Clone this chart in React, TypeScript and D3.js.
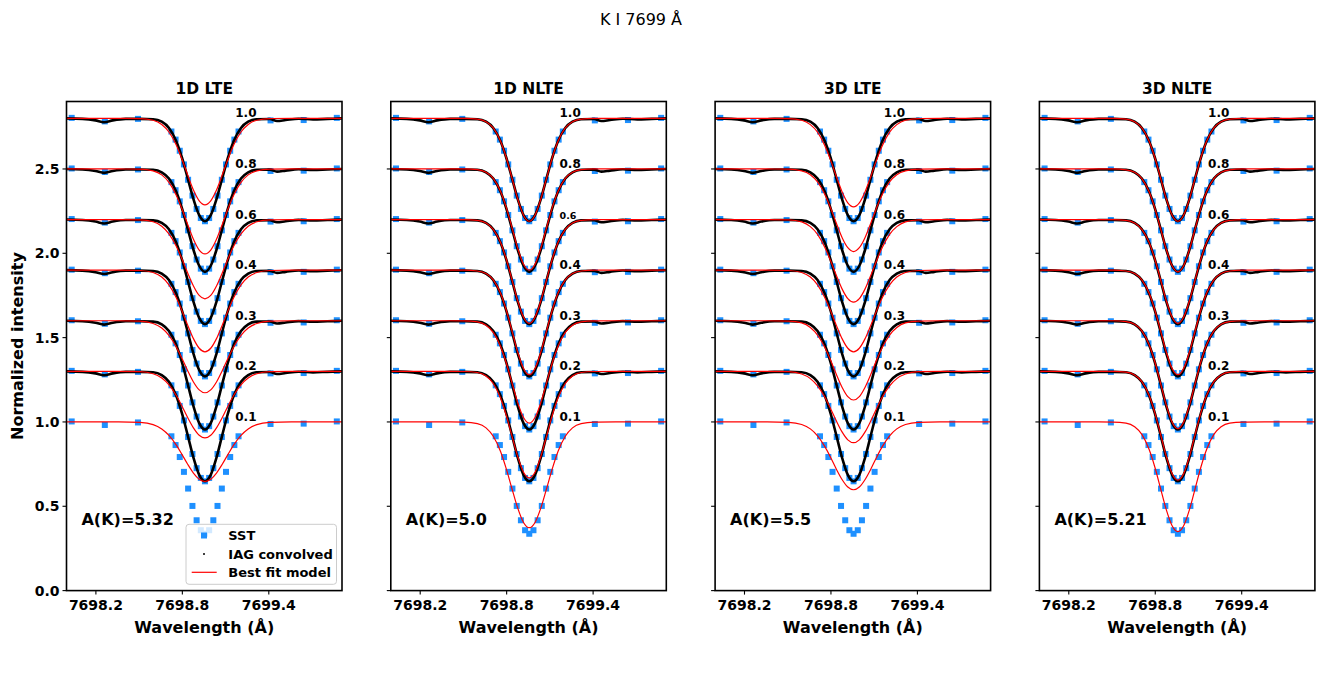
import React from "react";
import * as d3 from "d3";

// ---------- data ----------
const panelTitles = ["1D LTE", "1D NLTE", "3D LTE", "3D NLTE"];
const abundanceLabels = ["A(K)=5.32", "A(K)=5.0", "A(K)=5.5", "A(K)=5.21"];
const muLabels = ["1.0", "0.8", "0.6", "0.4", "0.3", "0.2", "0.1"];
const muOffsets = [1.8, 1.5, 1.2, 0.9, 0.6, 0.3, 0.0];
const xTicks = [7698.2, 7698.8, 7699.4];
const yTicks = [0, 0.5, 1.0, 1.5, 2.0, 2.5];

// SST observed wavelengths (Å)
const sstWavelengths = [
  7698.032, 7698.262, 7698.492, 7698.724, 7698.753, 7698.782, 7698.811, 7698.84, 7698.87, 7698.899,
  7698.928, 7698.957, 7698.986, 7699.015, 7699.044, 7699.074, 7699.103, 7699.132, 7699.161, 7699.19,
  7699.412, 7699.642, 7699.872,
];
// SST normalized intensities, one row per mu (1.0 ... 0.1)
const sstValues = [
  [1.003, 0.982, 0.997, 0.922, 0.874, 0.808, 0.727, 0.636, 0.542, 0.463, 0.409, 0.39, 0.409, 0.463, 0.542, 0.636, 0.727, 0.808, 0.874, 0.922, 0.988, 0.99, 1.003],
  [1.003, 0.982, 0.997, 0.922, 0.874, 0.808, 0.727, 0.636, 0.542, 0.463, 0.409, 0.39, 0.409, 0.463, 0.542, 0.636, 0.727, 0.808, 0.874, 0.922, 0.988, 0.99, 1.003],
  [1.003, 0.982, 0.997, 0.921, 0.872, 0.805, 0.723, 0.63, 0.534, 0.454, 0.399, 0.38, 0.399, 0.454, 0.534, 0.63, 0.723, 0.805, 0.872, 0.921, 0.988, 0.99, 1.003],
  [1.003, 0.982, 0.997, 0.919, 0.87, 0.802, 0.718, 0.625, 0.527, 0.446, 0.39, 0.37, 0.39, 0.446, 0.527, 0.625, 0.718, 0.802, 0.87, 0.919, 0.988, 0.99, 1.003],
  [1.003, 0.982, 0.997, 0.917, 0.866, 0.797, 0.712, 0.616, 0.516, 0.432, 0.375, 0.355, 0.375, 0.432, 0.516, 0.616, 0.712, 0.797, 0.866, 0.917, 0.988, 0.99, 1.003],
  [1.003, 0.982, 0.997, 0.917, 0.865, 0.795, 0.709, 0.611, 0.51, 0.426, 0.368, 0.348, 0.368, 0.426, 0.51, 0.611, 0.709, 0.795, 0.865, 0.917, 0.988, 0.99, 1.003],
  [1.003, 0.982, 0.997, 0.915, 0.863, 0.792, 0.704, 0.605, 0.502, 0.417, 0.358, 0.337, 0.358, 0.417, 0.502, 0.605, 0.704, 0.792, 0.863, 0.915, 0.988, 0.99, 1.003],
];

// IAG convolved spectrum wavelengths (Å)
const iagWavelengths = [
  7697.987, 7698.107, 7698.197, 7698.257, 7698.317, 7698.407, 7698.507, 7698.597, 7698.657, 7698.707,
  7698.757, 7698.797, 7698.837, 7698.877, 7698.917, 7698.957, 7698.997, 7699.037, 7699.077, 7699.117,
  7699.157, 7699.207, 7699.257, 7699.317, 7699.407, 7699.457, 7699.517, 7699.607, 7699.707, 7699.807,
  7699.917,
];
// IAG normalized intensities, mu 1.0 ... 0.2
const iagValues = [
  [1.0, 0.997, 0.988, 0.977, 0.988, 0.997, 0.997, 0.995, 0.98, 0.943, 0.866, 0.768, 0.646, 0.521, 0.426, 0.39, 0.426, 0.521, 0.646, 0.768, 0.866, 0.943, 0.98, 0.995, 0.996, 0.984, 0.99, 0.998, 0.994, 0.997, 1.0],
  [1.0, 0.997, 0.988, 0.977, 0.988, 0.997, 0.997, 0.995, 0.98, 0.943, 0.866, 0.768, 0.646, 0.521, 0.426, 0.39, 0.426, 0.521, 0.646, 0.768, 0.866, 0.943, 0.98, 0.995, 0.996, 0.984, 0.99, 0.998, 0.994, 0.997, 1.0],
  [1.0, 0.997, 0.988, 0.977, 0.988, 0.997, 0.997, 0.995, 0.98, 0.942, 0.864, 0.764, 0.64, 0.513, 0.417, 0.38, 0.417, 0.513, 0.64, 0.764, 0.864, 0.942, 0.98, 0.995, 0.996, 0.984, 0.99, 0.998, 0.994, 0.997, 1.0],
  [1.0, 0.997, 0.988, 0.977, 0.988, 0.997, 0.997, 0.995, 0.979, 0.941, 0.861, 0.761, 0.635, 0.505, 0.407, 0.37, 0.407, 0.505, 0.635, 0.761, 0.861, 0.941, 0.979, 0.995, 0.996, 0.984, 0.99, 0.998, 0.994, 0.997, 1.0],
  [1.0, 0.997, 0.988, 0.977, 0.988, 0.997, 0.997, 0.995, 0.979, 0.939, 0.858, 0.755, 0.626, 0.494, 0.393, 0.355, 0.393, 0.494, 0.626, 0.755, 0.858, 0.939, 0.979, 0.995, 0.996, 0.984, 0.99, 0.998, 0.994, 0.997, 1.0],
  [1.0, 0.997, 0.988, 0.977, 0.988, 0.997, 0.997, 0.995, 0.978, 0.939, 0.857, 0.752, 0.622, 0.488, 0.386, 0.348, 0.386, 0.488, 0.622, 0.752, 0.857, 0.939, 0.978, 0.995, 0.996, 0.984, 0.99, 0.998, 0.994, 0.997, 1.0],
];

// Best-fit model wavelengths (Å)
const modelWavelengths = [
  7697.987, 7698.357, 7698.507, 7698.597, 7698.657, 7698.707, 7698.757, 7698.797, 7698.837, 7698.877,
  7698.917, 7698.957, 7698.997, 7699.037, 7699.077, 7699.117, 7699.157, 7699.207, 7699.257, 7699.317,
  7699.407, 7699.557, 7699.927,
];
const model1DLTE = [
  [1, 1, 0.999, 0.989, 0.964, 0.919, 0.843, 0.759, 0.665, 0.575, 0.511, 0.487, 0.511, 0.575, 0.665, 0.759, 0.843, 0.919, 0.964, 0.989, 0.999, 1, 1],
  [1, 1, 0.999, 0.989, 0.965, 0.921, 0.846, 0.764, 0.671, 0.583, 0.519, 0.496, 0.519, 0.583, 0.671, 0.764, 0.846, 0.921, 0.965, 0.989, 0.999, 1, 1],
  [1, 1, 0.998, 0.987, 0.96, 0.915, 0.843, 0.767, 0.683, 0.606, 0.55, 0.53, 0.55, 0.606, 0.683, 0.767, 0.843, 0.915, 0.96, 0.987, 0.998, 1, 1],
  [1, 1, 0.998, 0.986, 0.959, 0.913, 0.838, 0.76, 0.674, 0.594, 0.537, 0.516, 0.537, 0.594, 0.674, 0.76, 0.838, 0.913, 0.959, 0.986, 0.998, 1, 1],
  [1, 1, 0.998, 0.984, 0.957, 0.913, 0.846, 0.778, 0.704, 0.637, 0.59, 0.573, 0.59, 0.637, 0.704, 0.778, 0.846, 0.913, 0.957, 0.984, 0.998, 1, 1],
  [1, 1, 0.998, 0.986, 0.96, 0.92, 0.858, 0.795, 0.726, 0.665, 0.621, 0.605, 0.621, 0.665, 0.726, 0.795, 0.858, 0.92, 0.96, 0.986, 0.998, 1, 1],
  [1, 1, 0.997, 0.984, 0.958, 0.92, 0.864, 0.808, 0.749, 0.697, 0.66, 0.647, 0.66, 0.697, 0.749, 0.808, 0.864, 0.92, 0.958, 0.984, 0.997, 1, 1],
];
const model1DNLTE = [
  [1, 1, 1.0, 0.995, 0.98, 0.943, 0.866, 0.768, 0.646, 0.521, 0.426, 0.39, 0.426, 0.521, 0.646, 0.768, 0.866, 0.943, 0.98, 0.995, 1.0, 1, 1],
  [1, 1, 1.0, 0.996, 0.98, 0.944, 0.868, 0.772, 0.652, 0.529, 0.435, 0.4, 0.435, 0.529, 0.652, 0.772, 0.868, 0.944, 0.98, 0.996, 1.0, 1, 1],
  [1, 1, 1.0, 0.995, 0.98, 0.942, 0.865, 0.766, 0.643, 0.517, 0.421, 0.385, 0.421, 0.517, 0.643, 0.766, 0.865, 0.942, 0.98, 0.995, 1.0, 1, 1],
  [1, 1, 1.0, 0.995, 0.98, 0.942, 0.864, 0.764, 0.64, 0.513, 0.417, 0.38, 0.417, 0.513, 0.64, 0.764, 0.864, 0.942, 0.98, 0.995, 1.0, 1, 1],
  [1, 1, 0.999, 0.993, 0.973, 0.931, 0.849, 0.751, 0.632, 0.514, 0.426, 0.393, 0.426, 0.514, 0.632, 0.751, 0.849, 0.931, 0.973, 0.993, 0.999, 1, 1],
  [1, 1, 0.999, 0.993, 0.972, 0.928, 0.843, 0.74, 0.616, 0.494, 0.402, 0.368, 0.402, 0.494, 0.616, 0.74, 0.843, 0.928, 0.972, 0.993, 0.999, 1, 1],
  [1, 1, 0.999, 0.99, 0.965, 0.915, 0.826, 0.723, 0.604, 0.489, 0.404, 0.373, 0.404, 0.489, 0.604, 0.723, 0.826, 0.915, 0.965, 0.99, 0.999, 1, 1],
];
const model3DLTE = [
  [1, 1, 0.999, 0.989, 0.963, 0.918, 0.839, 0.754, 0.657, 0.565, 0.499, 0.475, 0.499, 0.565, 0.657, 0.754, 0.839, 0.918, 0.963, 0.989, 0.999, 1, 1],
  [1, 1, 0.999, 0.989, 0.966, 0.923, 0.85, 0.77, 0.68, 0.594, 0.533, 0.51, 0.533, 0.594, 0.68, 0.77, 0.85, 0.923, 0.966, 0.989, 0.999, 1, 1],
  [1, 1, 0.998, 0.986, 0.958, 0.912, 0.836, 0.757, 0.67, 0.589, 0.531, 0.51, 0.531, 0.589, 0.67, 0.757, 0.836, 0.912, 0.958, 0.986, 0.998, 1, 1],
  [1, 1, 0.998, 0.986, 0.959, 0.913, 0.838, 0.76, 0.674, 0.594, 0.537, 0.516, 0.537, 0.594, 0.674, 0.76, 0.838, 0.913, 0.959, 0.986, 0.998, 1, 1],
  [1, 1, 0.998, 0.987, 0.96, 0.915, 0.843, 0.767, 0.683, 0.606, 0.55, 0.53, 0.55, 0.606, 0.683, 0.767, 0.843, 0.915, 0.96, 0.987, 0.998, 1, 1],
  [1, 1, 0.998, 0.984, 0.957, 0.914, 0.848, 0.78, 0.707, 0.641, 0.594, 0.577, 0.594, 0.641, 0.707, 0.78, 0.848, 0.914, 0.957, 0.984, 0.998, 1, 1],
  [1, 1, 0.998, 0.985, 0.959, 0.918, 0.855, 0.791, 0.721, 0.659, 0.614, 0.598, 0.614, 0.659, 0.721, 0.791, 0.855, 0.918, 0.959, 0.985, 0.998, 1, 1],
];
const model3DNLTE = [
  [1, 1, 1.0, 0.995, 0.98, 0.943, 0.866, 0.768, 0.646, 0.521, 0.426, 0.39, 0.426, 0.521, 0.646, 0.768, 0.866, 0.943, 0.98, 0.995, 1.0, 1, 1],
  [1, 1, 1.0, 0.995, 0.98, 0.943, 0.866, 0.768, 0.646, 0.521, 0.426, 0.39, 0.426, 0.521, 0.646, 0.768, 0.866, 0.943, 0.98, 0.995, 1.0, 1, 1],
  [1, 1, 1.0, 0.995, 0.98, 0.942, 0.865, 0.766, 0.643, 0.517, 0.421, 0.385, 0.421, 0.517, 0.643, 0.766, 0.865, 0.942, 0.98, 0.995, 1.0, 1, 1],
  [1, 1, 1.0, 0.995, 0.98, 0.942, 0.864, 0.764, 0.64, 0.513, 0.417, 0.38, 0.417, 0.513, 0.64, 0.764, 0.864, 0.942, 0.98, 0.995, 1.0, 1, 1],
  [1, 1, 1.0, 0.995, 0.979, 0.94, 0.859, 0.757, 0.629, 0.498, 0.398, 0.36, 0.398, 0.498, 0.629, 0.757, 0.859, 0.94, 0.979, 0.995, 1.0, 1, 1],
  [1, 1, 1.0, 0.995, 0.979, 0.939, 0.858, 0.755, 0.626, 0.494, 0.393, 0.355, 0.393, 0.494, 0.626, 0.755, 0.858, 0.939, 0.979, 0.995, 1.0, 1, 1],
  [1, 1, 0.999, 0.993, 0.971, 0.926, 0.838, 0.733, 0.605, 0.479, 0.385, 0.35, 0.385, 0.479, 0.605, 0.733, 0.838, 0.926, 0.971, 0.993, 0.999, 1, 1],
];
const modelsByPanel = [model1DLTE, model1DNLTE, model3DLTE, model3DNLTE];

// ---------- layout ----------
const W = 1333;
const H = 686;
const axLeft0 = 66.5;
const axStep = 324.3;
const axW = 275.5;
const axTop = 101.5;
const axBottom = 590.6;
const axH = axBottom - axTop;
const FONT = "DejaVu Sans, sans-serif";
const SST_COLOR = "#1e90ff";

export default function App() {
  const x = d3.scaleLinear().domain([7697.996, 7699.908]).range([0, axW]);
  const y = d3.scaleLinear().domain([0, 2.9]).range([axH, 0]);
  const mkLine = (xs: number[], off: number) =>
    d3
      .line<number>()
      .x((_, i) => x(xs[i]))
      .y((v) => y(v + off))
      .curve(d3.curveMonotoneX);

  return (
    <svg
      width={W}
      height={H}
      style={{ position: "absolute", left: 0, top: 0, background: "#fff" }}
      fontFamily={FONT}
    >
      <rect width={W} height={H} fill="#fff" />
      <text x={641} y={25} textAnchor="middle" fontSize={16}>
        K I 7699 Å
      </text>
      <text
        transform={`translate(23,${(axTop + axBottom) / 2}) rotate(-90)`}
        textAnchor="middle"
        fontSize={16}
        fontWeight="bold"
      >
        Normalized intensity
      </text>
      <defs>
        <clipPath id="axclip">
          <rect x={0} y={0} width={axW} height={axH} />
        </clipPath>
      </defs>
      {panelTitles.map((title, p) => {
        const left = axLeft0 + p * axStep;
        const models = modelsByPanel[p];
        return (
          <g key={title} transform={`translate(${left},${axTop})`}>
            <g clipPath="url(#axclip)">
              {sstValues.map((row, m) =>
                row.map((v, i) => (
                  <rect
                    key={`s${m}-${i}`}
                    x={x(sstWavelengths[i]) - 3}
                    y={y(v + muOffsets[m]) - 3}
                    width={6}
                    height={6}
                    fill={SST_COLOR}
                  />
                ))
              )}
              {iagValues.map((row, m) => (
                <path
                  key={`i${m}`}
                  d={mkLine(iagWavelengths, muOffsets[m])(row) || ""}
                  fill="none"
                  stroke="#000"
                  strokeWidth={2.6}
                />
              ))}
              {models.map((row, m) => (
                <path
                  key={`m${m}`}
                  d={mkLine(modelWavelengths, muOffsets[m])(row) || ""}
                  fill="none"
                  stroke="#ff0000"
                  strokeWidth={1.2}
                />
              ))}
            </g>
            {muLabels.map((lab, m) => (
              <text
                key={lab}
                x={x(7699.167)}
                y={y(1.0 + muOffsets[m]) - 1}
                fontSize={p === 1 && lab === "0.6" ? 9.5 : 12}
                fontWeight="bold"
              >
                {lab}
              </text>
            ))}
            <text x={x(7698.1)} y={y(0.39)} fontSize={16} fontWeight="bold">
              {abundanceLabels[p]}
            </text>
            {/* spines */}
            <rect x={0} y={0} width={axW} height={axH} fill="none" stroke="#000" strokeWidth={1.6} />
            {/* x ticks */}
            {xTicks.map((t) => (
              <g key={t} transform={`translate(${x(t)},${axH})`}>
                <line y1={0} y2={4} stroke="#000" strokeWidth={1.1} />
                <text y={19} textAnchor="middle" fontSize={14} fontWeight="bold">
                  {t.toFixed(1)}
                </text>
              </g>
            ))}
            {/* y ticks */}
            {yTicks.map((t) => (
              <g key={t} transform={`translate(0,${y(t)})`}>
                <line x1={0} x2={-4} stroke="#000" strokeWidth={1.1} />
                {p === 0 && (
                  <text x={-7} dy="0.36em" textAnchor="end" fontSize={14} fontWeight="bold">
                    {t.toFixed(1)}
                  </text>
                )}
              </g>
            ))}
            <text x={axW / 2} y={-8} textAnchor="middle" fontSize={15.5} fontWeight="bold">
              {title}
            </text>
            <text x={axW / 2} y={axH + 42} textAnchor="middle" fontSize={16} fontWeight="bold">
              Wavelength (Å)
            </text>
            {p === 0 && (
              <g>
                <rect
                  x={186 - left}
                  y={524.3 - axTop}
                  width={150.5}
                  height={60}
                  rx={3}
                  fill="#fff"
                  fillOpacity={0.8}
                  stroke="#cccccc"
                  strokeWidth={1}
                />
                <rect x={204 - left - 3} y={535.5 - axTop - 3} width={6} height={6} fill={SST_COLOR} />
                <circle cx={204 - left} cy={554 - axTop} r={1} fill="#000" />
                <line x1={191.7 - left} x2={216.7 - left} y1={572.3 - axTop} y2={572.3 - axTop} stroke="#ff0000" strokeWidth={1.2} />
                <text x={228.3 - left} y={535.5 - axTop} dy="0.36em" fontSize={13} fontWeight="bold">SST</text>
                <text x={228.3 - left} y={554 - axTop} dy="0.36em" fontSize={13} fontWeight="bold">IAG convolved</text>
                <text x={228.3 - left} y={572.3 - axTop} dy="0.36em" fontSize={13} fontWeight="bold">Best fit model</text>
              </g>
            )}
          </g>
        );
      })}
    </svg>
  );
}
